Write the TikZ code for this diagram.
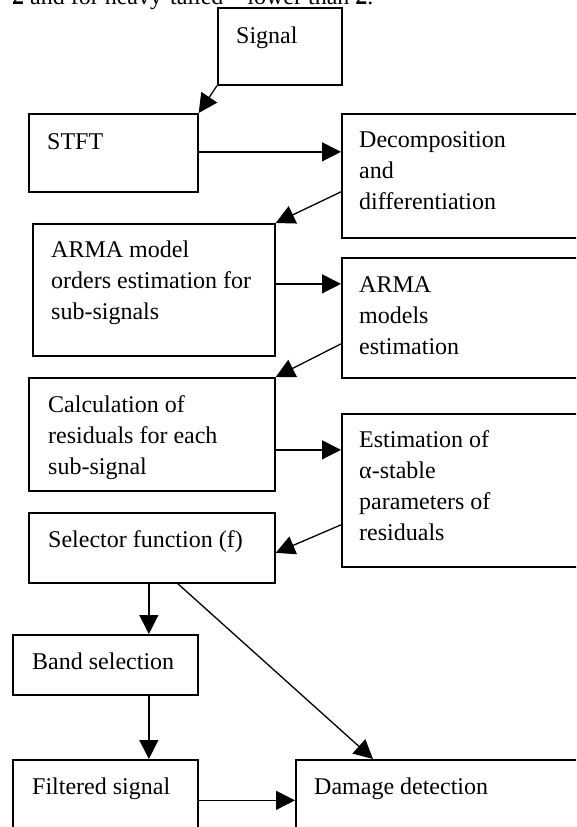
\documentclass[tikz,border=0pt]{standalone}
\usepackage{fontspec}
\setmainfont{Liberation Serif}
\usetikzlibrary{arrows.meta,calc}
\tikzset{
  box/.style={draw, line width=1.7pt, inner sep=0pt, anchor=north west},
  txt/.style={anchor=base west, inner sep=0pt, font=\fontsize{24}{31}\selectfont},
  arr/.style={line width=1.3pt, -{Triangle[length=19pt,width=19pt]}}
}
\newcommand\lines[1]{\begin{tabular}[t]{@{}l@{}}#1\end{tabular}}
\begin{document}
\begin{tikzpicture}[x=1pt,y=-1pt]
\useasboundingbox (0,0) rectangle (576,827);
\clip (0,0) rectangle (576,827);
% partial text line at top
\node[txt] (toptext) at (12,5) {\textbf{2} and for heavy-tailed – lower than \textbf{2}.};
% boxes
\node[box, minimum width=124pt, minimum height=77pt] (sig) at (217,7) {};
\node[box, minimum width=169pt, minimum height=78pt] (stft) at (28,113) {};
\node[box, minimum width=250pt, minimum height=124pt] (dec) at (341,113) {};
\node[box, minimum width=242pt, minimum height=132pt] (arma1) at (32,223) {};
\node[box, minimum width=250pt, minimum height=120pt] (arms) at (341,257) {};
\node[box, minimum width=246pt, minimum height=113pt] (calc) at (28,377) {};
\node[box, minimum width=250pt, minimum height=153pt] (est) at (341,413) {};
\node[box, minimum width=246pt, minimum height=70pt] (sel) at (28,512) {};
\node[box, minimum width=185pt, minimum height=60pt] (band) at (12,634) {};
\node[box, minimum width=185pt, minimum height=81pt] (filt) at (12,759) {};
\node[box, minimum width=300pt, minimum height=81pt] (dam) at (295,759) {};
% texts
\node[txt] (tsig) at (236,43) {Signal};
\node[txt] (tstft) at (47,149) {STFT};
\node[txt] (tdec) at (359,147) {\lines{Decomposition\\and\\differentiation}};
\node[txt] (tarma1) at (51,257) {\lines{ARMA model\\orders estimation for\\sub-signals}};
\node[txt] (tarms) at (359,292) {\lines{ARMA\\models\\estimation}};
\node[txt] (tcalc) at (48,412) {\lines{Calculation of\\residuals for each\\sub-signal}};
\node[txt] (test) at (359,447) {\lines{Estimation of\\α-stable\\parameters of\\residuals}};
\node[txt] (tsel) at (48,547) {Selector function (f)};
\node[txt] (tband) at (32,669) {Band selection};
\node[txt] (tfilt) at (32,794) {Filtered signal};
\node[txt] (tdam) at (314,794) {Damage detection};
% connectors
\draw[arr] (sig.south west) -- (stft.north east);
\draw[arr] ([yshift=1pt]stft.east) -- ([yshift=1pt]stft.east -| dec.west);
\draw[arr] ([yshift=-16pt]dec.west) -- (arma1.north east);
\draw[arr] ([yshift=6pt]arma1.east) -- ([yshift=6pt]arma1.east -| arms.west);
\draw[arr] ([yshift=-26pt]arms.west) -- (calc.north east);
\draw[arr] ([yshift=-15.5pt]calc.east) -- ([yshift=-15.5pt]calc.east -| est.west);
\draw[arr] ([yshift=-34.5pt]est.west) -- ([yshift=-5pt]sel.east);
\draw[arr] ([xshift=-3pt]sel.south) -- ([xshift=-3pt]sel.south |- band.north);
\draw[arr] ([xshift=26pt]sel.south) -- ([xshift=78pt]dam.north west);
\draw[arr] ([xshift=43.5pt]band.south) -- ([xshift=43.5pt]band.south |- filt.north);
\draw[arr] (filt.east) -- (filt.east -| dam.west);
\end{tikzpicture}
\end{document}
